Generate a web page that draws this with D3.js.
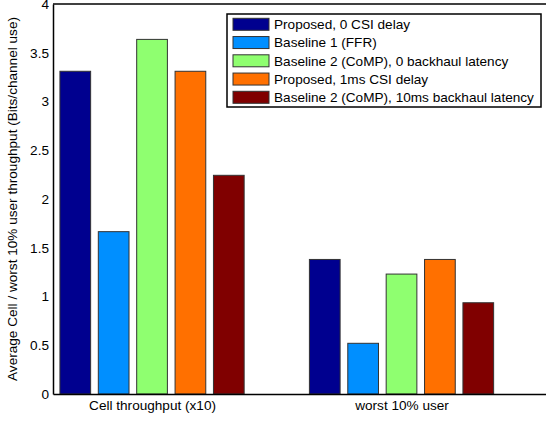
<!DOCTYPE html>
<html>
<head>
<meta charset="utf-8">
<script src="https://cdn.jsdelivr.net/npm/d3@7"></script>
<style>
  body { margin: 0; background: #fff; }
  text { font-family: "Liberation Sans", Arial, Helvetica, sans-serif; }
</style>
</head>
<body>
<svg id="chart" width="546" height="422"></svg>
<script>
const categories = ["Cell throughput (x10)", "worst 10% user"];
const series = [
  "Proposed, 0 CSI delay",
  "Baseline 1 (FFR)",
  "Baseline 2 (CoMP), 0 backhaul latency",
  "Proposed, 1ms CSI delay",
  "Baseline 2 (CoMP), 10ms backhaul latency"
];
const proposed0 = [3.31, 1.38];
const baseline1 = [1.665, 0.52];
const comp0 = [3.637, 1.23];
const proposed1ms = [3.31, 1.38];
const comp10ms = [2.243, 0.936];
const yTicks = [0, 0.5, 1, 1.5, 2, 2.5, 3, 3.5, 4];
const yTickLabels = ["0", "0.5", "1", "1.5", "2", "2.5", "3", "3.5", "4"];
const colors = ["#00008f", "#008fff", "#8fff70", "#ff7000", "#800000"];

const values = [proposed0, baseline1, comp0, proposed1ms, comp10ms];

(function () {
const FS = 13.6;
const svg = d3.select("#chart");
const mLeft = 53, mTop = 4, mBottom = 394, mRight = 620;

const x = d3.scaleLinear().domain([-0.397, (mRight - 152) / 249.5]).range([mLeft, mRight]);
const inner = d3.scaleBand().domain(series).range([-0.3846, 0.3846]).paddingInner(0.2).paddingOuter(0.1);
const y = d3.scaleLinear().domain([0, 4]).range([mBottom, mTop]);

categories.forEach((c, gi) => {
  series.forEach((s, si) => {
    const x0 = x(gi + inner(s));
    const x1 = x(gi + inner(s) + inner.bandwidth());
    svg.append("rect")
      .attr("x", x0).attr("y", y(values[si][gi]))
      .attr("width", x1 - x0).attr("height", y(0) - y(values[si][gi]))
      .attr("fill", colors[si])
      .attr("stroke", "#333").attr("stroke-width", 1);
  });
});

const yAxis = d3.axisLeft(y).tickValues(yTicks).tickFormat((d, i) => yTickLabels[i]).tickSize(0).tickPadding(4);
const gy = svg.append("g").attr("transform", `translate(${mLeft},0)`).call(yAxis);
gy.select(".domain").attr("stroke", "#000").attr("stroke-width", 1.5);
gy.selectAll("text").attr("font-size", FS).attr("fill", "#000")
  .attr("font-family", "'Liberation Sans', Arial, sans-serif");

const xAxis = d3.axisBottom(x).tickValues([0, 1]).tickFormat((d) => categories[d]).tickSize(0).tickPadding(6);
const gx = svg.append("g").attr("transform", `translate(0,${mBottom})`).call(xAxis);
gx.select(".domain").attr("stroke", "#000").attr("stroke-width", 1.5);
gx.selectAll("text").attr("font-size", FS).attr("fill", "#000")
  .attr("font-family", "'Liberation Sans', Arial, sans-serif");

svg.append("line").attr("x1", mLeft).attr("x2", mRight).attr("y1", mTop).attr("y2", mTop)
  .attr("stroke", "#000").attr("stroke-width", 1.5);

svg.append("text")
  .attr("transform", `translate(17,${(mTop + mBottom) / 2}) rotate(-90)`)
  .attr("text-anchor", "middle").attr("font-size", FS).attr("fill", "#000")
  .text("Average Cell / worst 10% user throughput (Bits/channel use)");

const lg = svg.append("g");
lg.append("rect").attr("x", 227).attr("y", 14).attr("width", 314).attr("height", 93)
  .attr("fill", "#fff").attr("stroke", "#000").attr("stroke-width", 1.5);
series.forEach((s, i) => {
  const cy = 24.3 + i * 18.25;
  lg.append("rect").attr("x", 233).attr("y", cy - 6).attr("width", 36).attr("height", 12)
    .attr("fill", colors[i]).attr("stroke", "#333").attr("stroke-width", 1);
  lg.append("text").attr("x", 274).attr("y", cy).attr("dy", "0.36em")
    .attr("font-size", FS).attr("fill", "#000").text(s);
});
})();
</script>
</body>
</html>
